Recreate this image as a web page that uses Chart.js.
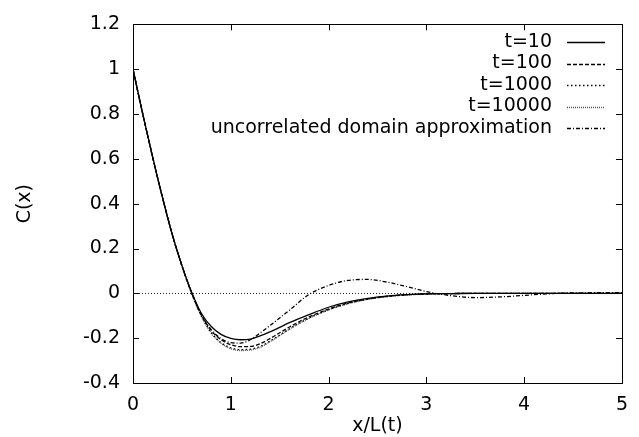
<!DOCTYPE html>
<html>
<head>
<meta charset="utf-8">
<script src="https://cdn.jsdelivr.net/npm/chart.js@4.4.1/dist/chart.umd.min.js"></script>
<style>
  html, body { margin: 0; padding: 0; background: #fff; }
  canvas { display: block; }
</style>
</head>
<body>
<canvas id="js-chart-corr" width="639" height="437"></canvas>
<script>
// x/L(t) sample positions
const xs = [0, 0.1, 0.2, 0.3, 0.4, 0.5, 0.6, 0.7, 0.8, 0.9, 1.0, 1.1, 1.2, 1.3, 1.4, 1.5, 1.6, 1.8, 2.0, 2.2, 2.4, 2.6, 2.8, 3.0, 3.25, 3.5, 3.75, 4.0, 4.25, 4.5, 5.0];

// C(x) for each time
const t10 = [1, 0.8, 0.61, 0.43, 0.265, 0.125, 0.005, -0.09, -0.148, -0.183, -0.201, -0.207, -0.204, -0.19, -0.172, -0.152, -0.131, -0.095, -0.062, -0.038, -0.022, -0.012, -0.006, -0.002, -0.001, 0, 0, 0, 0, 0, 0];
const t100 = [1, 0.8, 0.61, 0.43, 0.265, 0.124, 0.002, -0.097, -0.165, -0.207, -0.229, -0.238, -0.237, -0.225, -0.202, -0.176, -0.15, -0.105, -0.07, -0.043, -0.025, -0.013, -0.006, -0.002, -0.001, 0, 0, 0, 0, 0, 0];
const t1000 = [1, 0.8, 0.61, 0.43, 0.265, 0.123, 0.0, -0.101, -0.175, -0.219, -0.243, -0.251, -0.249, -0.237, -0.213, -0.186, -0.158, -0.11, -0.073, -0.045, -0.026, -0.014, -0.007, -0.003, -0.001, 0, 0, 0, 0, 0, 0];
const t10000 = [1, 0.8, 0.61, 0.43, 0.265, 0.123, -0.001, -0.103, -0.178, -0.223, -0.247, -0.255, -0.253, -0.241, -0.216, -0.189, -0.16, -0.112, -0.074, -0.046, -0.027, -0.014, -0.007, -0.003, -0.001, 0, 0, 0, 0, 0, 0];
const uncorrelated = [1, 0.8, 0.61, 0.43, 0.265, 0.124, 0.002, -0.096, -0.162, -0.202, -0.22, -0.222, -0.207, -0.177, -0.144, -0.11, -0.075, -0.005, 0.035, 0.058, 0.062, 0.05, 0.03, 0.008, -0.01, -0.019, -0.016, -0.009, -0.002, 0.002, 0.003];

// Axis ticks
const xTicks = [0, 1, 2, 3, 4, 5];
const yTicks = [-0.4, -0.2, 0, 0.2, 0.4, 0.6, 0.8, 1, 1.2];

const fontMain = {family: 'DejaVu Sans', size: 19};

function pts(ys) {
  return xs.map((x, i) => ({x: x, y: ys[i]}));
}

function line(label, ys, dash, color) {
  return {
    label: label,
    data: pts(ys),
    borderColor: color || '#000',
    borderWidth: 1.3,
    borderDash: dash,
    pointRadius: 0,
    fill: false,
    cubicInterpolationMode: 'monotone'
  };
}

// gnuplot look: box, inward ticks on all sides, dotted zero axis, key at top right
const gnuplotFrame = {
  id: 'gnuplotFrame',
  beforeDatasetsDraw(chart) {
    const {ctx, scales: {x, y}} = chart;
    ctx.save();
    ctx.strokeStyle = '#222';
    ctx.lineWidth = 1;
    ctx.setLineDash([1, 2]);
    ctx.beginPath();
    ctx.moveTo(x.getPixelForValue(0), Math.round(y.getPixelForValue(0)) + 0.5);
    ctx.lineTo(x.getPixelForValue(5), Math.round(y.getPixelForValue(0)) + 0.5);
    ctx.stroke();
    ctx.restore();
  },
  afterDraw(chart) {
    const {ctx, chartArea: a, scales: {x, y}} = chart;
    ctx.save();
    ctx.strokeStyle = '#000';
    ctx.lineWidth = 1;
    ctx.setLineDash([]);
    ctx.strokeRect(Math.round(a.left) + 0.5, Math.round(a.top) + 0.5, Math.round(a.right - a.left), Math.round(a.bottom - a.top));
    const tl = 6;
    ctx.beginPath();
    xTicks.forEach(v => {
      const px = Math.round(x.getPixelForValue(v)) + 0.5;
      ctx.moveTo(px, a.bottom); ctx.lineTo(px, a.bottom - tl);
      ctx.moveTo(px, a.top); ctx.lineTo(px, a.top + tl);
    });
    yTicks.forEach(v => {
      const py = Math.round(y.getPixelForValue(v)) + 0.5;
      ctx.moveTo(a.left, py); ctx.lineTo(a.left + tl, py);
      ctx.moveTo(a.right, py); ctx.lineTo(a.right - tl, py);
    });
    ctx.stroke();

    // key
    ctx.font = fontMain.size + 'px ' + fontMain.family;
    ctx.fillStyle = '#000';
    ctx.textAlign = 'right';
    ctx.textBaseline = 'middle';
    chart.data.datasets.forEach((ds, i) => {
      const cy = 42 + i * 21.5;
      ctx.fillText(ds.label, 552, cy);
      ctx.strokeStyle = ds.borderColor;
      ctx.lineWidth = ds.borderWidth;
      ctx.setLineDash(ds.borderDash || []);
      ctx.beginPath();
      ctx.moveTo(567, Math.round(cy) + 0.5);
      ctx.lineTo(605, Math.round(cy) + 0.5);
      ctx.stroke();
    });
    ctx.restore();
  }
};

const chartCon = document.getElementById('js-chart-corr');

const chartData = {
  datasets: [
    line('t=10', t10, []),
    line('t=100', t100, [4, 2]),
    line('t=1000', t1000, [1.5, 2.5]),
    line('t=10000', t10000, [1, 1], '#555'),
    line('uncorrelated domain approximation', uncorrelated, [4, 2, 1, 2])
  ]
};

const chartOptions = {
  responsive: false,
  devicePixelRatio: 1,
  animation: false,
  layout: {padding: {top: 14, right: 16, bottom: 0, left: 0}},
  plugins: {
    legend: {display: false},
    tooltip: {enabled: false}
  },
  scales: {
    x: {
      type: 'linear',
      min: 0,
      max: 5,
      grid: {display: false, drawTicks: false},
      border: {display: false},
      ticks: {color: '#000', font: fontMain, padding: 11, maxRotation: 0, autoSkip: false},
      title: {display: true, text: 'x/L(t)', color: '#000', font: fontMain, padding: {top: 0, bottom: 0}},
      afterBuildTicks: s => { s.ticks = xTicks.map(v => ({value: v})); },
      afterFit: s => { s.height = 54; }
    },
    y: {
      type: 'linear',
      min: -0.4,
      max: 1.2,
      grid: {display: false, drawTicks: false},
      border: {display: false},
      ticks: {
        color: '#000', font: fontMain, padding: 13, autoSkip: false,
        callback: v => String(Math.round(v * 10) / 10)
      },
      title: {display: true, text: 'C(x)', color: '#000', font: fontMain, padding: {top: 14, bottom: 0}},
      afterBuildTicks: s => { s.ticks = yTicks.map(v => ({value: v})); },
      afterFit: s => { s.width = 133; }
    }
  }
};

new Chart(chartCon, {type: 'line', data: chartData, options: chartOptions, plugins: [gnuplotFrame]});
</script>
</body>
</html>
